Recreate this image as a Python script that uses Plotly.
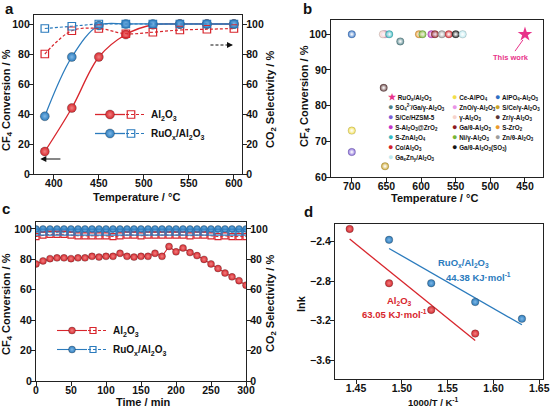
import numpy as np
import plotly.graph_objects as go

W, H = 552, 408
RED = '#d8262d'
BLUE = '#2b7bbd'
PINK = '#e8338a'
FONT = 'Liberation Sans'

# ---- panel a: conversion / selectivity vs temperature ----
temp_a = [390, 420, 450, 480, 510, 540, 570, 600]
al_conv_a = [15, 44, 78, 93, 99.5, 100, 100, 100]
al_sel_a = [80, 95.5, 97, 93.5, 94.5, 96, 96.5, 97]
ru_conv_a = [38.5, 78, 99, 100, 100, 100, 100, 100]
ru_sel_a = [97, 98.5, 100, 100, 100, 100, 100, 100]

# ---- panel b: literature comparison ----
catalysts_b = [
    'RuO<sub>x</sub>/Al<sub>2</sub>O<sub>3</sub>',
    'Ce-AlPO<sub>4</sub>',
    'AlPO<sub>4</sub>-Al<sub>2</sub>O<sub>3</sub>',
    'SO<sub>4</sub><sup>2-</sup>/Ga/γ-Al<sub>2</sub>O<sub>3</sub>',
    'ZnO/γ-Al<sub>2</sub>O<sub>3</sub>',
    'S/Ce/γ-Al<sub>2</sub>O<sub>3</sub>',
    'S/Ce/HZSM-5',
    'γ-Al<sub>2</sub>O<sub>3</sub>',
    'Zr/γ-Al<sub>2</sub>O<sub>3</sub>',
    'S-Al<sub>2</sub>O<sub>3</sub>@ZrO<sub>2</sub>',
    'Ga/θ-Al<sub>2</sub>O<sub>3</sub>',
    'S-ZrO<sub>2</sub>',
    'S-ZnAl<sub>2</sub>O<sub>4</sub>',
    'Ni/γ-Al<sub>2</sub>O<sub>3</sub>',
    'Zn/θ-Al<sub>2</sub>O<sub>3</sub>',
    'Co/Al<sub>2</sub>O<sub>3</sub>',
    'Ga/θ-Al<sub>2</sub>O<sub>3</sub>(SO<sub>3</sub>)',
    'Ga<sub>x</sub>Zn<sub>y</sub>/Al<sub>2</sub>O<sub>3</sub>',
]
temp_b = [450, 700, 700, 630, 652, 652, 700, 655, 654, 585, 580, 603, 646, 598, 570, 560, 550, 540]
conv_b = [100, 73, 100, 98, 100, 63, 67, 100, 85, 100, 100, 100, 100, 100, 100, 100, 100, 100]
colors_b = [PINK, '#f2de4a', '#2f6fc4', '#4d7f86', '#e995e6', '#c9a227', '#7d5fd6',
            '#f7d3cc', '#5b3535', '#c236c9', '#8e1b1f', '#ea9a2c', '#33b9c2',
            '#77b535', '#9c9c9c', '#d3242a', '#151515', '#bfeaf0']
# legend layout of panel b, column by column
legend_cols_b = [[0, 3, 6, 9, 12, 15, 17], [1, 4, 7, 10, 13, 16], [2, 5, 8, 11, 14]]

# ---- panel c: stability test ----
time_c = [0, 10, 20, 30, 40, 50, 60, 70, 80, 90, 100, 110, 120, 130, 140, 150,
          160, 170, 180, 190, 200, 210, 220, 230, 240, 250, 260, 270, 280, 290, 300]
al_conv_c = [77, 79, 80.5, 81, 81, 80.5, 81, 81, 82, 81.5, 82, 82, 84, 82, 81.5, 82,
             82, 84, 82, 88.5, 85, 87.5, 84.5, 82.5, 80, 77, 74, 71, 68.5, 66, 63]
al_sel_c = [95, 96, 96.5, 96.5, 96.5, 96, 95.5, 95.5, 95.5, 95.5, 95.5, 95, 95.5, 96, 96, 95.5,
            96, 96, 96, 96, 96, 96, 95.5, 96, 96, 95.5, 95, 95.5, 95, 95, 95]
ru_conv_c = [100, 100, 100, 100, 100, 100, 100, 100, 100, 100, 100, 100, 100, 100, 100, 100,
             100, 100, 100, 100, 100, 100, 100, 100, 100, 100, 100, 100, 100, 100, 100]
ru_sel_c = [98, 98, 98, 98, 98, 98, 98, 98, 98, 98, 98, 98, 98, 98, 98, 98,
            98, 98, 98, 98, 98, 98, 98, 98, 98, 98, 98, 98, 98, 98, 98]

# ---- panel d: Arrhenius plot ----
inv_t_al = [1.443, 1.486, 1.532, 1.580]
lnk_al = [-2.27, -2.82, -3.09, -3.33]
inv_t_ru = [1.486, 1.532, 1.580, 1.631]
lnk_ru = [-2.38, -2.82, -3.01, -3.18]


def px(x):
    return x / W


def py(y):
    return 1 - y / H


def sphere(color, size, light):
    return dict(symbol='circle', size=size, color=color,
                line=dict(color='rgba(40,40,40,0.6)', width=0.5),
                gradient=dict(type='radial', color=light))


def square(color, size):
    return dict(symbol='square-open', size=size, color=color, line=dict(color=color, width=1.2))


RED_HI, BLUE_HI = '#f08080', '#7fb8e6'

fig = go.Figure()

# panel a
fig.add_trace(go.Scatter(x=temp_a, y=al_conv_a, mode='lines+markers', name='',
                         line=dict(color=RED, width=1.3, shape='spline'),
                         marker=sphere(RED, 9, RED_HI), xaxis='x', yaxis='y', legend='legend'))
fig.add_trace(go.Scatter(x=temp_a, y=al_sel_a, mode='lines+markers', name='Al<sub>2</sub>O<sub>3</sub>',
                         line=dict(color=RED, width=1.2, shape='spline', dash='3px,2px'),
                         marker=square(RED, 7.5), xaxis='x', yaxis='y2', legend='legend2'))
fig.add_trace(go.Scatter(x=temp_a, y=ru_conv_a, mode='lines+markers', name='',
                         line=dict(color=BLUE, width=1.3, shape='spline'),
                         marker=sphere(BLUE, 9, BLUE_HI), xaxis='x', yaxis='y', legend='legend'))
fig.add_trace(go.Scatter(x=temp_a, y=ru_sel_a, mode='lines+markers',
                         name='RuO<sub>x</sub>/Al<sub>2</sub>O<sub>3</sub>',
                         line=dict(color=BLUE, width=1.2, shape='spline', dash='3px,2px'),
                         marker=square(BLUE, 7.5), xaxis='x', yaxis='y2', legend='legend2'))

# panel b
fig.add_trace(go.Scatter(x=temp_b[1:], y=conv_b[1:], mode='markers', showlegend=False,
                         marker=dict(symbol='circle', size=7.5, color=colors_b[1:],
                                     line=dict(color='rgba(40,40,40,0.4)', width=0.4),
                                     gradient=dict(type='radial', color='rgba(255,255,255,0.7)')),
                         xaxis='x2', yaxis='y3'))
fig.add_trace(go.Scatter(x=temp_b[:1], y=conv_b[:1], mode='markers', showlegend=False,
                         marker=dict(symbol='star', size=11, color=PINK, line=dict(width=0)),
                         xaxis='x2', yaxis='y3'))

# panel c
fig.add_trace(go.Scatter(x=time_c, y=al_conv_c, mode='lines+markers', name='',
                         line=dict(color=RED, width=1.1),
                         marker=sphere(RED, 7, RED_HI), xaxis='x3', yaxis='y4', legend='legend3'))
fig.add_trace(go.Scatter(x=time_c, y=al_sel_c, mode='lines+markers', name='Al<sub>2</sub>O<sub>3</sub>',
                         line=dict(color=RED, width=1.0, dash='3px,2px'),
                         marker=square(RED, 6), xaxis='x3', yaxis='y5', legend='legend4'))
fig.add_trace(go.Scatter(x=time_c, y=ru_conv_c, mode='lines+markers', name='',
                         line=dict(color=BLUE, width=1.1),
                         marker=sphere(BLUE, 7, BLUE_HI), xaxis='x3', yaxis='y4', legend='legend3'))
fig.add_trace(go.Scatter(x=time_c, y=ru_sel_c, mode='lines+markers',
                         name='RuO<sub>x</sub>/Al<sub>2</sub>O<sub>3</sub>',
                         line=dict(color=BLUE, width=1.0, dash='3px,2px'),
                         marker=square(BLUE, 6), xaxis='x3', yaxis='y5', legend='legend4'))

# panel d: points and linear fits
for xs, ys, col, light in [(inv_t_al, lnk_al, RED, RED_HI), (inv_t_ru, lnk_ru, BLUE, BLUE_HI)]:
    slope, icpt = np.polyfit(xs, ys, 1)
    fx = np.array([xs[0], xs[-1]])
    fig.add_trace(go.Scatter(x=fx, y=slope * fx + icpt, mode='lines', showlegend=False,
                             line=dict(color=col, width=1.3), xaxis='x4', yaxis='y6'))
    fig.add_trace(go.Scatter(x=xs, y=ys, mode='markers', showlegend=False,
                             marker=sphere(col, 7.5, light), xaxis='x4', yaxis='y6'))

ax = dict(showline=True, linecolor='#222', linewidth=1.3, ticks='outside', ticklen=4,
          tickwidth=1.2, tickcolor='#222', showgrid=False, zeroline=False, automargin=False,
          tickfont=dict(size=10.5), autorange=False, ticklabelstandoff=-3)
axx = dict(ax, ticklabelstandoff=-5)

legend_base = dict(xanchor='left', yanchor='top', bgcolor='rgba(0,0,0,0)', borderwidth=0,
                   font=dict(size=10), itemwidth=30, tracegroupgap=0, itemclick=False)

fig.update_layout(
    template='none',
    width=W, height=H, margin=dict(l=0, r=0, t=0, b=0, autoexpand=False),
    paper_bgcolor='white', plot_bgcolor='white',
    font=dict(family=FONT, color='#111', weight='bold'),
    xaxis=dict(axx, domain=[px(34), px(242)], anchor='y', range=[378, 609], dtick=50, mirror=True),
    yaxis=dict(ax, domain=[py(174), py(15)], anchor='x', range=[0, 106], dtick=20),
    yaxis2=dict(ax, overlaying='y', side='right', anchor='x', range=[0, 106], dtick=20),
    xaxis2=dict(axx, domain=[px(331), px(543)], anchor='y3', range=[730, 424], dtick=50, mirror=True),
    yaxis3=dict(ax, domain=[py(177), py(20)], anchor='x2', range=[60, 104], dtick=10, mirror=True),
    xaxis3=dict(axx, domain=[px(36), px(246)], anchor='y4', range=[0, 300], dtick=50, mirror=True),
    yaxis4=dict(ax, domain=[py(381), py(222)], anchor='x3', range=[0, 104.6], dtick=20),
    yaxis5=dict(ax, overlaying='y4', side='right', anchor='x3', range=[0, 104.6], dtick=20),
    xaxis4=dict(axx, domain=[px(335), px(543)], anchor='y6', range=[1.427, 1.654], dtick=0.05,
                tick0=1.45, tickformat='.2f', mirror=True),
    yaxis6=dict(ax, domain=[py(379), py(224)], anchor='x4', range=[-3.79, -2.22], dtick=0.4,
                tick0=-2.4, tickformat='.1f', mirror=True),
    legend=dict(legend_base, x=px(90), y=py(100)),
    legend2=dict(legend_base, x=px(111), y=py(100)),
    legend3=dict(legend_base, x=px(52), y=py(316)),
    legend4=dict(legend_base, x=px(73), y=py(316)),
)

notes = []
# panel letters
for letter, lx, ly in [('a', 9, 8), ('b', 307, 8), ('c', 6, 208), ('d', 308, 211)]:
    notes.append(dict(text=letter, x=px(lx), y=py(ly), xref='paper', yref='paper',
                      xanchor='center', yanchor='middle', showarrow=False, font=dict(size=15)))

# axis titles
titles = [
    ('CF<sub>4</sub> Conversion / %', 7, 100, -90, 11),
    ('CO<sub>2</sub> Selectivity / %', 271, 100, -90, 11),
    ('Temperature / °C', 136, 197, 0, 11),
    ('CF<sub>4</sub> Conversion / %', 305, 96, -90, 11),
    ('Temperature / °C', 435, 198, 0, 11),
    ('CF<sub>4</sub> Conversion / %', 7, 304, -90, 11),
    ('CO<sub>2</sub> Selectivity / %', 271, 304, -90, 11),
    ('Time / min', 143, 402, 0, 11),
    ('lnk', 301, 304, -90, 11),
    ('1000/T / K<sup>-1</sup>', 433, 402, 0, 9.5),
]
for txt, lx, ly, ang, size in titles:
    notes.append(dict(text=txt, x=px(lx), y=py(ly), xref='paper', yref='paper', textangle=ang,
                      xanchor='center', yanchor='middle', showarrow=False, font=dict(size=size)))

# panel a direction arrows
notes.append(dict(x=385, y=10, ax=409, ay=10, xref='x', yref='y', axref='x', ayref='y', text='',
                  showarrow=True, arrowhead=2, arrowsize=1, arrowwidth=1.2, arrowcolor='#111'))
notes.append(dict(x=599, y=86, ax=592, ay=86, xref='x', yref='y', axref='x', ayref='y', text='',
                  showarrow=True, arrowhead=2, arrowsize=1, arrowwidth=1.2, arrowcolor='#111'))

# panel b
notes.append(dict(x=453, y=98.4, ax=470.5, ay=93.6, xref='x2', yref='y3', axref='x2', ayref='y3',
                  text='This work', showarrow=True, arrowhead=0, arrowwidth=1, arrowcolor=PINK,
                  font=dict(size=7.5, color=PINK)))
legend_x_b = [386, 450, 493]
for col, idxs in enumerate(legend_cols_b):
    for row, i in enumerate(idxs):
        glyph = '★' if i == 0 else '●'
        notes.append(dict(
            text=f"<span style='color:{colors_b[i]};font-size:9px'>{glyph}</span> {catalysts_b[i]}",
            x=px(legend_x_b[col]), y=py(97 + 10 * row), xref='paper', yref='paper',
            xanchor='left', yanchor='middle', showarrow=False, font=dict(size=6.3)))

# panel d labels
for txt, lx, ly, col in [('RuO<sub>x</sub>/Al<sub>2</sub>O<sub>3</sub>', 463, 263, BLUE),
                         ('44.38 KJ·mol<sup>-1</sup>', 478, 277, BLUE),
                         ('Al<sub>2</sub>O<sub>3</sub>', 399, 301, RED),
                         ('63.05 KJ·mol<sup>-1</sup>', 394, 314, RED)]:
    notes.append(dict(text=txt, x=px(lx), y=py(ly), xref='paper', yref='paper', showarrow=False,
                      xanchor='center', yanchor='middle', font=dict(size=9.5, color=col)))

fig.update_layout(annotations=notes,
                  shapes=[dict(type='line', xref='x', yref='y', x0=574, x1=593, y0=86, y1=86,
                               line=dict(color='#111', width=1.2, dash='3px,2px'))])

# the page body has a default 8px margin; drop it so the figure fills the window
fig.write_html('out.html', config={'displayModeBar': False},
               post_script="document.body.style.margin='0';document.body.style.overflow='hidden';")
